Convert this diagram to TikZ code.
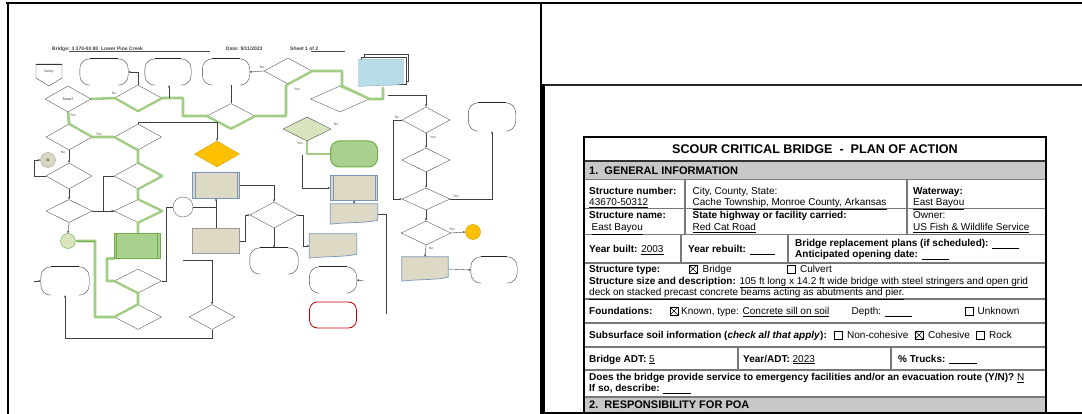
\documentclass[tikz,border=0pt]{standalone}
\usepackage{fontspec}
\setmainfont{Liberation Sans}
\usetikzlibrary{shapes.geometric,arrows.meta,calc}
\definecolor{tanc}{RGB}{221,217,196}
\definecolor{bluebd}{RGB}{120,150,190}
\definecolor{grnpath}{RGB}{160,205,130}
\definecolor{grnfill}{RGB}{169,208,142}
\definecolor{grnbd}{RGB}{112,173,71}
\definecolor{grnlight}{RGB}{215,228,189}
\definecolor{orng}{RGB}{255,192,0}
\definecolor{bluedoc}{RGB}{183,222,232}
\definecolor{redbd}{RGB}{192,0,0}
\definecolor{graycirc}{RGB}{217,214,196}
\definecolor{rowline}{RGB}{120,120,120}
\definecolor{hdrgray}{RGB}{200,200,200}
\newcommand\fm{\fontsize{10}{11}\selectfont}
\newcommand\fh{\fontsize{11}{12}\selectfont\bfseries}
\newcommand\ftn{\fontsize{3.4}{3.8}\selectfont}
\newcommand\blank[1]{\underline{\hspace{#1}}}
\tikzset{
  fl/.style={line width=0.4pt,draw=black!75},
  arr/.style={fl,-{Stealth[length=2.5pt,width=2pt]}},
  dia/.style={diamond,draw=black!70,line width=0.35pt,inner sep=0pt,fill=white},
  gp/.style={line width=2.6pt,draw=grnpath,line join=round,line cap=round},
  t/.style={anchor=base west,inner sep=0pt,font=\fm},
  cb/.style={draw,line width=0.5pt,minimum size=8pt,inner sep=0pt},
  cbx/.style={cb,path picture={\draw[line width=0.45pt] (path picture bounding box.south west) -- (path picture bounding box.north east) (path picture bounding box.north west) -- (path picture bounding box.south east);}},
  yn/.style={inner sep=0pt,font=\ftn,text=black!70},
  hdr/.style={anchor=west,inner sep=0pt,font=\fontsize{5}{6}\selectfont\bfseries,text=black!75}
}
\newcommand\fterm[5]{%
  \node[inner sep=0pt,minimum width=#4,minimum height=#5] (#1) at (#2,#3) {};
  \draw[fl,rounded corners=10pt] ([xshift=10pt]#1.south west) -- (#1.south west) -- (#1.north west) -- (#1.north east) -- (#1.south east) -- ([xshift=-10pt]#1.south east);
  \draw[black!85,line width=0.7pt] ([xshift=10pt]#1.north west) -- ([xshift=-10pt]#1.north east);}
\newcommand\fpp[7]{%
  \node[draw=#7,fill=#6,line width=0.7pt,inner sep=0pt,minimum width=#4,minimum height=#5] (#1) at (#2,#3) {};
  \draw[#7,line width=0.4pt] ([xshift=3pt]#1.north west) -- ([xshift=3pt]#1.south west) ([xshift=-3pt]#1.north east) -- ([xshift=-3pt]#1.south east);}
\newcommand\fdoc[5]{%
  \node[inner sep=0pt,minimum width=#4,minimum height=#5] (#1) at (#2,#3) {};
  \filldraw[fill=tanc,draw=bluebd,line width=0.7pt] (#1.north west) -- (#1.north east) -- ([yshift=4pt]#1.south east) .. controls +(-12pt,-3pt) and +(14pt,2pt) .. (#1.south west) -- cycle;}
\begin{document}
\begin{tikzpicture}[x=1pt,y=-1pt]
\useasboundingbox (0,0) rectangle (1082,414);
% ---------- page frames ----------
\draw[line width=2.5pt] (6,3) -- (1082,3);
\draw[line width=1.6pt] (8,2) -- (8,414);
\draw[line width=1.6pt] (541,2) -- (541,414);
\draw[line width=2pt,black!85] (543,85) -- (1082,85);
\draw[line width=3pt] (543.5,84) -- (543.5,414);
\draw[line width=1.6pt] (541,412.8) -- (1082,412.8);

% ---------- left: flowchart page ----------
\node[hdr] (h1) at (52,49) {Bridge: 3 370-00 88\ \ Lower Pine Creek};
\draw[black!70,line width=0.4pt] (69,51.5) -- (210,51.5);
\node[hdr] (h2) at (226,49) {Date: 9/11/2023};
\node[hdr] (h3) at (290,49) {Sheet 1 of 2};
\draw[black!70,line width=0.4pt] (311,51.5) -- (345,51.5);

% green highlighted path (under the shapes)
\draw[gp] (91,99) -- (115,98) -- (138,111) -- (162,98) -- (183,98) -- (183,116) -- (207,116) -- (231,128.5) -- (255,116) -- (286,116) -- (286,86) -- (288,84) -- (312,71) -- (342,71) -- (342,86) -- (369.5,99) -- (383,99) -- (383,88);
\draw[gp] (68,112) -- (69,124) -- (92,137) -- (114.5,137) -- (138,150) -- (138,163) -- (162,176) -- (138,189) -- (138,199.5) -- (162,211) -- (138,222.5) -- (138,233.5);
\draw[gp] (114,258.5) -- (107,258.5) -- (107,281) -- (114.5,281) -- (138,293) -- (138,304.5) -- (114.5,317) -- (95,317) -- (95,241) -- (78,241);
\draw[gp] (307,141) -- (307,154) -- (330.5,154);

% off-page connector
\draw[fl] (36,64) -- (62,64) -- (62,78) -- (49,86) -- (36,78) -- cycle;
\draw[black!80,line width=0.8pt] (36,64) -- (62,64);
\node[yn] (pentt) at (49,72) {Safety};

% terminators
\fterm{t1}{104}{72}{48pt}{26pt}
\fterm{t2}{168}{72}{46pt}{26pt}
\fterm{t3}{226}{72}{47pt}{26pt}
\fterm{tR}{492}{117}{47pt}{28pt}
\fterm{t4}{274}{261}{48pt}{26pt}
\fterm{t5}{333}{280}{47pt}{26pt}
\fterm{t6}{65}{281}{48pt}{28pt}
\fterm{tR2}{494}{270}{46pt}{26pt}

% blue stacked document
\node[inner sep=0pt,minimum width=44pt,minimum height=27pt] (bdoc) at (381,73) {};
\draw[fl,fill=white] ([xshift=5pt,yshift=5pt]bdoc.north west) rectangle ([xshift=5pt,yshift=5pt]bdoc.south east);
\draw[fl,fill=white] ([xshift=2.5pt,yshift=2.5pt]bdoc.north west) rectangle ([xshift=2.5pt,yshift=2.5pt]bdoc.south east);
\filldraw[fill=bluedoc,draw=bluedoc!70!black,line width=0.3pt] (bdoc.north west) -- (bdoc.north east) -- ([yshift=3pt]bdoc.south east) .. controls +(-12pt,-3pt) and +(12pt,2pt) .. (bdoc.south west) -- cycle;

% diamonds
\node[dia,minimum width=48pt,minimum height=26pt] (dTop) at (288,71) {};
\node[dia,minimum width=46pt,minimum height=26pt] (d1) at (68,99) {\ftn Scour?};
\node[dia,minimum width=47pt,minimum height=26pt] (d2) at (138,98) {};
\node[dia,minimum width=48pt,minimum height=25pt] (d3) at (231,116) {};
\node[dia,minimum width=59pt,minimum height=26pt] (d4) at (340,99) {};
\node[dia,minimum width=48pt,minimum height=26pt] (dR1) at (426,120) {};
\node[dia,fill=grnlight,minimum width=48pt,minimum height=24pt] (dG) at (307,129) {};
\node[dia,minimum width=46pt,minimum height=26pt] (d5) at (69,137) {};
\node[dia,minimum width=47pt,minimum height=26pt] (d6) at (138,137) {};
\node[dia,fill=orng,draw=orng!80!black,minimum width=45pt,minimum height=26pt] (dO) at (217,154) {};
\node[dia,minimum width=46pt,minimum height=26pt] (d7) at (69,176) {};
\node[dia,minimum width=48pt,minimum height=26pt] (d8) at (138,176) {};
\node[dia,minimum width=48pt,minimum height=24pt] (dR2) at (426,160) {};
\node[dia,minimum width=48pt,minimum height=22pt] (dR3) at (426,199) {};
\node[dia,minimum width=46pt,minimum height=23pt] (d9) at (69,211) {};
\node[dia,minimum width=48pt,minimum height=23pt] (d10) at (138,211) {};
\node[dia,minimum width=48pt,minimum height=26pt] (dScour) at (274,215) {};
\node[dia,minimum width=50pt,minimum height=24pt] (dR4) at (426,233) {};
\node[dia,minimum width=47pt,minimum height=24pt] (d11) at (138,281) {};
\node[dia,minimum width=47pt,minimum height=25pt] (d12) at (138,317) {};
\node[dia,minimum width=46pt,minimum height=25pt] (d13) at (212,317) {};

% redraw green path pieces that lie on diamond edges
\draw[gp,line width=2pt] (115,98) -- (138,111) -- (162,98);
\draw[gp,line width=2pt] (207,116) -- (231,128.5) -- (255,116);
\draw[gp,line width=2pt] (288,84) -- (312,71);
\draw[gp,line width=2pt] (340,86) -- (369.5,99);
\draw[gp,line width=2pt] (69,124) -- (92,137);
\draw[gp,line width=2pt] (114.5,137) -- (138,150);
\draw[gp,line width=2pt] (138,163) -- (162,176) -- (138,189);
\draw[gp,line width=2pt] (138,199.5) -- (162,211) -- (138,222.5);
\draw[gp,line width=2pt] (114.5,281) -- (138,293);
\draw[gp,line width=2pt] (138,304.5) -- (114.5,317);

% boxes
\fpp{bx1}{216}{185}{47pt}{26pt}{tanc}{bluebd}
\fpp{bx2}{354}{188}{47pt}{25pt}{tanc}{bluebd}
\fpp{bxG}{137}{246}{46pt}{25pt}{grnfill}{grnbd}
\node[draw=black!40,fill=tanc,line width=0.6pt,inner sep=0pt,minimum width=47pt,minimum height=25pt] (bx4) at (216,241) {};
\fdoc{bx3}{354}{214}{47pt}{20pt}
\fdoc{doc2}{333}{246}{47pt}{24pt}
\fdoc{doc3}{425}{269}{46pt}{24pt}
\node[draw=grnbd,fill=grnfill,line width=1pt,rounded corners=9pt,inner sep=0pt,minimum width=47pt,minimum height=26pt] (gRR) at (354,154) {};
\node[draw=redbd,fill=white,line width=0.8pt,rounded corners=8pt,inner sep=0pt,minimum width=47pt,minimum height=26pt] (rRed) at (333,315) {};

% circles
\node[circle,fill=graycirc,draw=graycirc!70!black,line width=0.3pt,minimum size=15pt,inner sep=0pt] (cGray) at (48,160) {\ftn 31};
\node[circle,draw=black!70,line width=0.35pt,minimum size=20pt,inner sep=0pt] (cSmall) at (183,207) {};
\node[circle,fill=grnlight,draw=grnbd,line width=0.4pt,minimum size=15pt,inner sep=0pt] (cGreen) at (68,241) {};
\node[circle,fill=orng,draw=orng!80!black,line width=0.4pt,minimum size=15pt,inner sep=0pt] (cOrange) at (473,232) {};

% connectors
\coordinate (c2) at (169,98);
\coordinate (c12) at (183,260);
\coordinate (c14) at (34,281);
\coordinate (c15) at (364,281);
\coordinate (c17) at (388,95);
\coordinate (c19) at (302,155);
\coordinate (c16) at (386,314);
\draw[arr] (d2.north) |- (t1.east);
\draw[arr] (c2) -- (c2 |- t2.south);
\draw[arr] (dTop.west) -- (t3.east);
\draw[fl] (d3.north) -- (d3.north |- t3.south);
\draw[arr] (d6.north) -- ++(0,-2) -| (dO.north);
\draw[arr] (bx1.east) -| (dScour.north);
\draw[arr] (bx4.north) -- (bx1.south);
\draw[fl] (cSmall.east) -- (bx4.north |- cSmall.east);
\draw[arr] (bx4.east) -- ++(5,0) |- (dScour.west);
\draw[arr] (dScour.east) -- ++(5,0) |- (doc2.west);
\draw[arr] (dScour.south) -- (t4.north);
\draw[arr] (c12) -| (d13.north);
\draw[arr] (d13.south) -- ++(0,9) -| (t6.south);
\draw[arr] (c14) -- (t6.west);
\draw[arr] (c15) -- (t5.east);
\draw[fl] (bx3.east) -| (c16);
\draw[arr] (c17) -| (dR1.north);
\draw[arr] (dR1.south) -- (dR2.north);
\draw[arr] (dR2.south) -- (dR3.north);
\draw[arr] (dR3.south) -- (dR4.north);
\draw[arr] (dR3.east) -| (tR.south);
\draw[arr] (dR1.west) -- ++(-9,0) |- (dR3.west);
\draw[arr] (dR4.east) -- (cOrange.west);
\draw[arr] (dR4.south) -- (doc3.north);
\draw[arr] (doc3.east) -- (tR2.west);
\draw[arr] (c19) |- (bx2.west);
\draw[arr] (bx2.south) -- (bx3.north);
\draw[arr] (d7.west) -- ++(-11.5,0) |- (cGray.west);
\draw[arr] (d5.south) -- (d7.north);
\draw[arr] (d7.south) -- (d9.north);
\draw[arr] (d9.south) -- (cGreen.north);
\draw[arr] (d8.west) -- ++(-10.5,0) |- (d10.west);
\draw[fl] (d9.east) -- (d10.west);
\draw[fl] (d11.east) -- ++(5,0) |- (cSmall.west);
\draw[arr,draw=grnbd] (95,241) -- (cGreen.east);

% yes / no labels
\node[yn] at (262,67) {No};
\node[yn] at (297,89) {Yes};
\node[yn] at (114,93) {No};
\node[yn] at (73,115) {Yes};
\node[yn] at (99,134) {Yes};
\node[yn] at (63,152) {No};
\node[yn] at (300,143) {Yes};
\node[yn] at (336,124) {No};
\node[yn] at (433,137) {Yes};
\node[yn] at (397,117) {No};
\node[yn] at (456,196) {Yes};
\node[yn] at (452,229) {Yes};
\node[yn] at (431,248) {No};

% ---------- right: plan of action form ----------
\fill[hdrgray] (584,161) rectangle (1046,179.5);
\fill[hdrgray] (584,397) rectangle (1046,412);
\foreach \yy in {179.5,208.5,234.5,263,299,323,347,370,397}
  \draw[rowline,line width=1.1pt] (584,\yy) -- (1046,\yy);
\draw[black!80,line width=1.1pt] (584,161) -- (1046,161);
\draw[rowline,line width=1.1pt] (685,179.5) -- (685,234.5) (907,179.5) -- (907,234.5)
  (681,234.5) -- (681,263) (788,234.5) -- (788,263)
  (738,347) -- (738,370) (891,347) -- (891,370);
\draw[line width=1.3pt] (584,412) -- (584,137) -- (1046,137) -- (1046,412);

\node[inner sep=0pt,font=\fontsize{12.6}{14}\selectfont\bfseries] (title) at (815,149.5) {SCOUR CRITICAL BRIDGE\ \ -\ \ PLAN OF ACTION};
\node[anchor=west,inner sep=0pt,font=\fh] (s1) at (589,170.5) {1.\ \ GENERAL INFORMATION};

\node[t] (a1) at (589,194.5) {\textbf{Structure number:}};
\node[t] (a2) at (589,205.5) {\underline{43670-50312}};
\node[t] (a3) at (692.5,194.5) {City, County, State:};
\node[t] (a4) at (692.5,205.5) {\underline{Cache Township, Monroe County, Arkansas}};
\node[t] (a5) at (913,194.5) {\textbf{Waterway:}};
\node[t] (a6) at (913,205.5) {\underline{East Bayou}};

\node[t] (b1) at (589,219) {\textbf{Structure name:}};
\node[t] (b2) at (591.5,230.5) {\underline{East Bayou}};
\node[t] (b3) at (692.5,219) {\textbf{State highway or facility carried:}};
\node[t] (b4) at (692.5,230.5) {\underline{Red Cat Road}};
\node[t] (b5) at (913,219) {Owner:};
\node[t] (b6) at (913,230.5) {\underline{US Fish \& Wildlife Service}};

\node[t] (c1) at (589,252.5) {\textbf{Year built:} \underline{2003}};
\node[t] (c2t) at (688,252.5) {\textbf{Year rebuilt:} \blank{25pt}};
\node[t] (c3) at (795,246.5) {\textbf{Bridge replacement plans (if scheduled):} \blank{27pt}};
\node[t] (c4) at (795,258) {\textbf{Anticipated opening date:} \blank{27pt}};

\node[t] (e1) at (589,272.5) {\textbf{Structure type:}};
\node[cbx] (e2) at (693,269) {};
\node[t] (e3) at (702.5,272.5) {Bridge};
\node[cb] (e4) at (791,269) {};
\node[t] (e5) at (800,272.5) {Culvert};
\node[t] (e6) at (589,284) {\textbf{Structure size and description:} \underline{105 ft long x 14.2 ft wide bridge with steel stringers and open grid}};
\node[t] (e7) at (589,295.5) {\underline{deck on stacked precast concrete beams acting as abutments and pier.}};

\node[t] (f1) at (589,314.5) {\textbf{Foundations:}};
\node[cbx] (f2) at (674,311) {};
\node[t] (f3) at (681,314.5) {Known, type: \underline{Concrete sill on soil}};
\node[t] (f4) at (851.5,314.5) {Depth: \blank{27pt}};
\node[cb] (f5) at (969,311) {};
\node[t] (f6) at (977.5,314.5) {Unknown};

\node[t] (g1) at (589,338.5) {\textbf{Subsurface soil information (\textit{check all that apply}):}};
\node[cb] (g2) at (838,335) {};
\node[t] (g3) at (847,338.5) {Non-cohesive};
\node[cbx] (g4) at (919,335) {};
\node[t] (g5) at (928,338.5) {Cohesive};
\node[cb] (g6) at (980,335) {};
\node[t] (g7) at (989,338.5) {Rock};

\node[t] (k1) at (589,362) {\textbf{Bridge ADT:} \underline{5}};
\node[t] (k2) at (743,362) {\textbf{Year/ADT:} \underline{2023}};
\node[t] (k3) at (898,362) {\textbf{\% Trucks:} \blank{28pt}};

\node[t] (m1) at (589,380.5) {\textbf{Does the bridge provide service to emergency facilities and/or an evacuation route (Y/N)?} \underline{N}};
\node[t] (m2) at (589,391.5) {\textbf{If so, describe:} \blank{28pt}};

\node[anchor=west,inner sep=0pt,font=\fh] (s2) at (589,405) {2.\ \ RESPONSIBILITY FOR POA};
\end{tikzpicture}
\end{document}
